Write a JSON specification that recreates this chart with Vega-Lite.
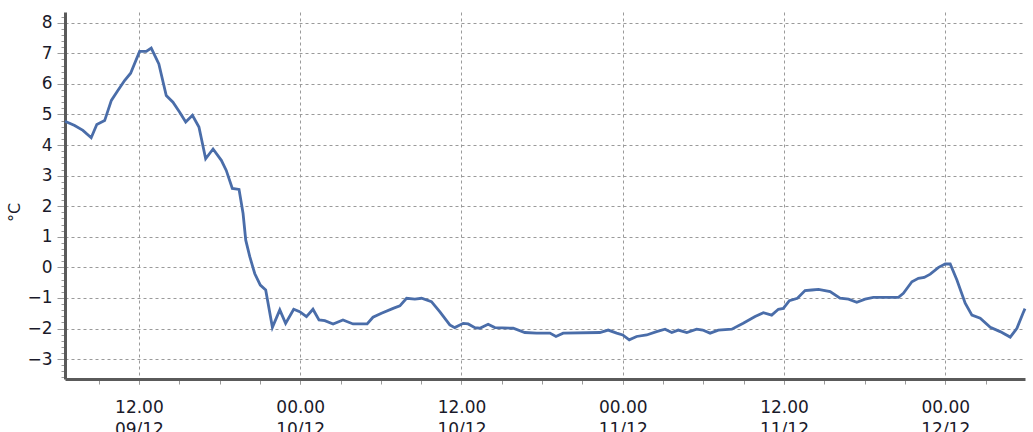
{
  "width": 960,
  "height": 367,
  "autosize": {"type": "none"},
  "padding": {"left": 65, "top": 12, "right": 8, "bottom": 53},
  "background": "white",
  "config": {"view": {"stroke": null}, "font": "DejaVu Sans"},
  "data": {"values": [
    {"t": "2023-12-09T06:30", "v": 4.78},
    {"t": "2023-12-09T07:13", "v": 4.64},
    {"t": "2023-12-09T07:50", "v": 4.48},
    {"t": "2023-12-09T08:27", "v": 4.24},
    {"t": "2023-12-09T08:52", "v": 4.67},
    {"t": "2023-12-09T09:27", "v": 4.80},
    {"t": "2023-12-09T09:57", "v": 5.46},
    {"t": "2023-12-09T10:26", "v": 5.78},
    {"t": "2023-12-09T10:56", "v": 6.11},
    {"t": "2023-12-09T11:23", "v": 6.35},
    {"t": "2023-12-09T12:03", "v": 7.06},
    {"t": "2023-12-09T12:33", "v": 7.06},
    {"t": "2023-12-09T12:55", "v": 7.17},
    {"t": "2023-12-09T13:29", "v": 6.65},
    {"t": "2023-12-09T14:02", "v": 5.62},
    {"t": "2023-12-09T14:32", "v": 5.40},
    {"t": "2023-12-09T15:02", "v": 5.07},
    {"t": "2023-12-09T15:29", "v": 4.75},
    {"t": "2023-12-09T15:59", "v": 4.97},
    {"t": "2023-12-09T16:28", "v": 4.59},
    {"t": "2023-12-09T16:58", "v": 3.55},
    {"t": "2023-12-09T17:31", "v": 3.87},
    {"t": "2023-12-09T18:08", "v": 3.50},
    {"t": "2023-12-09T18:30", "v": 3.17},
    {"t": "2023-12-09T18:57", "v": 2.58},
    {"t": "2023-12-09T19:27", "v": 2.55},
    {"t": "2023-12-09T19:45", "v": 1.76},
    {"t": "2023-12-09T19:57", "v": 0.89},
    {"t": "2023-12-09T20:15", "v": 0.35},
    {"t": "2023-12-09T20:37", "v": -0.20},
    {"t": "2023-12-09T21:02", "v": -0.58},
    {"t": "2023-12-09T21:26", "v": -0.74},
    {"t": "2023-12-09T21:56", "v": -1.96},
    {"t": "2023-12-09T22:29", "v": -1.39},
    {"t": "2023-12-09T22:55", "v": -1.83},
    {"t": "2023-12-09T23:31", "v": -1.37},
    {"t": "2023-12-09T23:58", "v": -1.45},
    {"t": "2023-12-10T00:28", "v": -1.61},
    {"t": "2023-12-10T00:57", "v": -1.37},
    {"t": "2023-12-10T01:24", "v": -1.72},
    {"t": "2023-12-10T01:50", "v": -1.74},
    {"t": "2023-12-10T02:27", "v": -1.85},
    {"t": "2023-12-10T03:11", "v": -1.72},
    {"t": "2023-12-10T03:56", "v": -1.85},
    {"t": "2023-12-10T04:59", "v": -1.85},
    {"t": "2023-12-10T05:25", "v": -1.63},
    {"t": "2023-12-10T06:03", "v": -1.50},
    {"t": "2023-12-10T06:55", "v": -1.34},
    {"t": "2023-12-10T07:25", "v": -1.26},
    {"t": "2023-12-10T07:55", "v": -1.01},
    {"t": "2023-12-10T08:32", "v": -1.04},
    {"t": "2023-12-10T09:02", "v": -1.01},
    {"t": "2023-12-10T09:46", "v": -1.12},
    {"t": "2023-12-10T10:23", "v": -1.45},
    {"t": "2023-12-10T11:08", "v": -1.88},
    {"t": "2023-12-10T11:30", "v": -1.97},
    {"t": "2023-12-10T12:08", "v": -1.83},
    {"t": "2023-12-10T12:30", "v": -1.85},
    {"t": "2023-12-10T13:00", "v": -1.97},
    {"t": "2023-12-10T13:22", "v": -1.99},
    {"t": "2023-12-10T13:59", "v": -1.86},
    {"t": "2023-12-10T14:29", "v": -1.97},
    {"t": "2023-12-10T15:51", "v": -1.99},
    {"t": "2023-12-10T16:43", "v": -2.13},
    {"t": "2023-12-10T17:35", "v": -2.15},
    {"t": "2023-12-10T18:35", "v": -2.15},
    {"t": "2023-12-10T19:02", "v": -2.26},
    {"t": "2023-12-10T19:34", "v": -2.15},
    {"t": "2023-12-10T22:18", "v": -2.13},
    {"t": "2023-12-10T22:55", "v": -2.05},
    {"t": "2023-12-10T23:33", "v": -2.15},
    {"t": "2023-12-11T00:00", "v": -2.21},
    {"t": "2023-12-11T00:29", "v": -2.37},
    {"t": "2023-12-11T01:02", "v": -2.26},
    {"t": "2023-12-11T01:47", "v": -2.21},
    {"t": "2023-12-11T02:31", "v": -2.10},
    {"t": "2023-12-11T03:09", "v": -2.02},
    {"t": "2023-12-11T03:39", "v": -2.13},
    {"t": "2023-12-11T04:08", "v": -2.05},
    {"t": "2023-12-11T04:46", "v": -2.13},
    {"t": "2023-12-11T05:30", "v": -2.02},
    {"t": "2023-12-11T05:57", "v": -2.05},
    {"t": "2023-12-11T06:30", "v": -2.15},
    {"t": "2023-12-11T07:07", "v": -2.05},
    {"t": "2023-12-11T08:07", "v": -2.02},
    {"t": "2023-12-11T08:58", "v": -1.83},
    {"t": "2023-12-11T09:51", "v": -1.61},
    {"t": "2023-12-11T10:28", "v": -1.48},
    {"t": "2023-12-11T11:05", "v": -1.56},
    {"t": "2023-12-11T11:35", "v": -1.37},
    {"t": "2023-12-11T11:57", "v": -1.34},
    {"t": "2023-12-11T12:24", "v": -1.09},
    {"t": "2023-12-11T13:00", "v": -1.01},
    {"t": "2023-12-11T13:34", "v": -0.76},
    {"t": "2023-12-11T14:04", "v": -0.74},
    {"t": "2023-12-11T14:34", "v": -0.72},
    {"t": "2023-12-11T15:26", "v": -0.79},
    {"t": "2023-12-11T16:10", "v": -1.01},
    {"t": "2023-12-11T16:48", "v": -1.04},
    {"t": "2023-12-11T17:25", "v": -1.14},
    {"t": "2023-12-11T18:02", "v": -1.04},
    {"t": "2023-12-11T18:39", "v": -0.98},
    {"t": "2023-12-11T20:31", "v": -0.98},
    {"t": "2023-12-11T20:53", "v": -0.85},
    {"t": "2023-12-11T21:31", "v": -0.47},
    {"t": "2023-12-11T22:00", "v": -0.36},
    {"t": "2023-12-11T22:26", "v": -0.33},
    {"t": "2023-12-11T22:53", "v": -0.22},
    {"t": "2023-12-11T23:30", "v": 0.0},
    {"t": "2023-12-12T00:00", "v": 0.11},
    {"t": "2023-12-12T00:22", "v": 0.11},
    {"t": "2023-12-12T00:52", "v": -0.41},
    {"t": "2023-12-12T01:29", "v": -1.17},
    {"t": "2023-12-12T01:59", "v": -1.56},
    {"t": "2023-12-12T02:36", "v": -1.66},
    {"t": "2023-12-12T03:21", "v": -1.96},
    {"t": "2023-12-12T04:05", "v": -2.10},
    {"t": "2023-12-12T04:50", "v": -2.28},
    {"t": "2023-12-12T05:20", "v": -1.99},
    {"t": "2023-12-12T05:47", "v": -1.50},
    {"t": "2023-12-12T05:56", "v": -1.35}
  ]},
  "layer": [
    {
      "mark": {"type": "line", "strokeOpacity": 0},
      "encoding": {
        "x": {
          "field": "t",
          "type": "temporal",
          "scale": {"nice": false},
          "axis": {
            "orient": "bottom",
            "title": null,
            "tickCount": 24,
            "labels": false,
            "grid": false,
            "domain": false,
            "tickSize": 5,
            "tickColor": "#999999"
          }
        },
        "y": {
          "field": "v",
          "type": "quantitative",
          "scale": {"domain": [-3.65, 8.35], "nice": false, "zero": false},
          "axis": {
            "orient": "left",
            "title": null,
            "values": [-3.6,-3.4,-3.2,-3,-2.8,-2.6,-2.4,-2.2,-2,-1.8,-1.6,-1.4,-1.2,-1,-0.8,-0.6,-0.4,-0.2,0,0.2,0.4,0.6,0.8,1,1.2,1.4,1.6,1.8,2,2.2,2.4,2.6,2.8,3,3.2,3.4,3.6,3.8,4,4.2,4.4,4.6,4.8,5,5.2,5.4,5.6,5.8,6,6.2,6.4,6.6,6.8,7,7.2,7.4,7.6,7.8,8,8.2],
            "labels": false,
            "grid": false,
            "domain": false,
            "tickSize": 4,
            "tickColor": "#999999"
          }
        }
      }
    },
    {
      "mark": {"type": "line", "strokeOpacity": 0},
      "encoding": {
        "x": {
          "field": "t",
          "type": "temporal",
          "axis": {
            "orient": "bottom",
            "title": null,
            "tickCount": 6,
            "format": "%d/%m",
            "labelOverlap": false,
            "labelFlush": false,
            "labelFontSize": 17,
            "labelColor": "#1a1a2a",
            "labelPadding": 42,
            "ticks": false,
            "domain": false,
            "grid": false
          }
        },
        "y": {
          "field": "v",
          "type": "quantitative",
          "axis": null
        }
      }
    },
    {
      "mark": {"type": "line", "color": "#4a6da9", "strokeWidth": 2.8},
      "encoding": {
        "x": {
          "field": "t",
          "type": "temporal",
          "axis": {
            "orient": "bottom",
            "title": null,
            "tickCount": 6,
            "format": "%H.%M",
            "labelOverlap": false,
            "labelFlush": false,
            "labelFontSize": 17,
            "labelColor": "#1a1a2a",
            "labelPadding": 15,
            "tickSize": 5,
            "tickColor": "#999999",
            "domainColor": "#5a5a5a",
            "domainWidth": 3,
            "grid": true,
            "gridColor": "#9a9a9a",
            "gridDash": [3, 3],
            "gridWidth": 1
          }
        },
        "y": {
          "field": "v",
          "type": "quantitative",
          "axis": {
            "orient": "left",
            "title": "°C",
            "titleFontSize": 16,
            "titleFontWeight": "normal",
            "titleColor": "#1a1a2a",
            "titleX": -43,
            "titleY": 200,
            "titleAngle": -90,
            "values": [-3,-2,-1,0,1,2,3,4,5,6,7,8],
            "labelOverlap": false,
            "labelFlush": false,
            "labelFontSize": 17,
            "labelColor": "#1a1a2a",
            "labelPadding": 5,
            "tickSize": 8,
            "tickColor": "#999999",
            "domainColor": "#5a5a5a",
            "domainWidth": 3,
            "grid": true,
            "gridColor": "#9a9a9a",
            "gridDash": [3, 3],
            "gridWidth": 1
          }
        }
      }
    }
  ],
  "resolve": {"axis": {"x": "independent", "y": "independent"}}
}
